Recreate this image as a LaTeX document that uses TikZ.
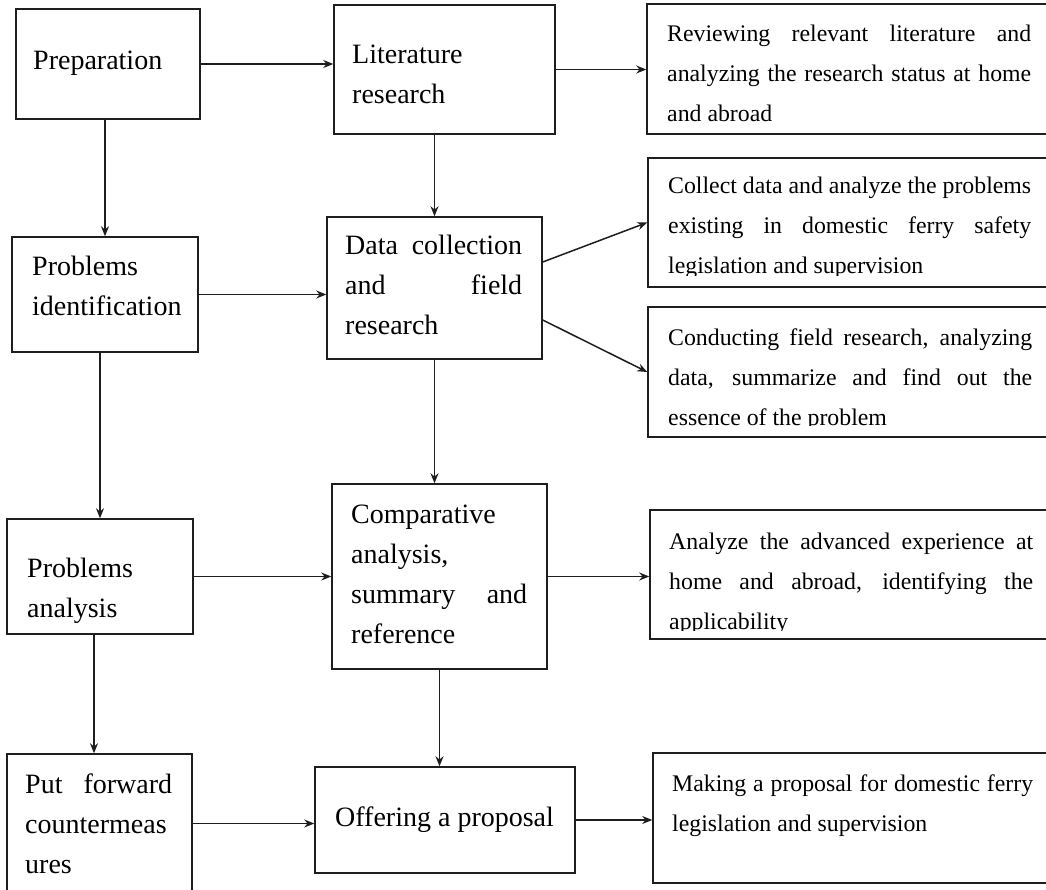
\documentclass[tikz,border=0pt]{standalone}
\usepackage{fontspec}
\setmainfont{Liberation Serif}
\usetikzlibrary{arrows.meta,fit}
\definecolor{linecol}{RGB}{30,30,30}
\newcommand{\jline}[1]{\makebox[\linewidth][s]{#1}}
\begin{document}
\begin{tikzpicture}[x=1pt,y=-1pt,
 box/.style={draw=linecol, line width=1.5pt, inner sep=0pt, rectangle},
 txt/.style={inner sep=0pt, anchor=base west, text=black},
 arr/.style={draw=linecol, line width=1.5pt, -{Stealth[length=10pt,width=8pt]}},
 big/.style={font=\fontsize{28}{40}\selectfont},
 small/.style={font=\fontsize{23.8}{40}\selectfont}]
\useasboundingbox[fill=white] (0,0) rectangle (1046,890);

% column 1
\node[box, fit={(16,9)(200,119)}] (prep) {};
\node[txt,big] (prep-t) at (33,70) {Preparation};
\node[box, fit={(12,237)(198,352)}] (probid) {};
\node[txt,big] (probid-t) at (32,276) {\parbox[t]{160pt}{Problems\\identification}};
\node[box, fit={(7,519)(193,634)}] (probana) {};
\node[txt,big] (probana-t) at (27,577) {\parbox[t]{160pt}{Problems\\analysis}};
\node[box, fit={(7,754)(192,893)}] (put) {};
\node[txt,big] (put-t) at (25,793) {\parbox[t]{147pt}{\jline{Put forward}\\countermeas\\ures}};

% column 2
\node[box, fit={(334,5)(555,134)}] (lit) {};
\node[txt,big] (lit-t) at (352,64) {\parbox[t]{190pt}{Literature\\research}};
\node[box, fit={(327,217)(542,359)}] (data) {};
\node[txt,big] (data-t) at (345,255) {\parbox[t]{177pt}{\jline{Data collection}\\\jline{and field}\\research}};
\node[box, fit={(332,484)(547,669)}] (comp) {};
\node[txt,big] (comp-t) at (351,523) {\parbox[t]{176pt}{Comparative\\analysis,\\\jline{summary and}\\reference}};
\node[box, fit={(315,767)(575,873)}] (offer) {};
\node[txt,big] (offer-t) at (335,826) {Offering a proposal};

% column 3
\node[box, fit={(647,4)(1049,134)}] (rev) {};
\node[txt,small] (rev-t) at (667,42) {\parbox[t]{364pt}{\jline{Reviewing relevant literature and}\\\jline{analyzing the research status at home}\\and abroad}};
\node[box, fit={(648,158)(1049,287)}] (collect) {};
\begin{scope}
\clip (640,150) rectangle (1046,276);
\node[txt,small] (collect-t) at (668,194) {\parbox[t]{363pt}{\jline{Collect data and analyze the problems}\\\jline{existing in domestic ferry safety}\\legislation and supervision}};
\end{scope}
\node[box, fit={(648,307)(1049,437)}] (conduct) {};
\begin{scope}
\clip (640,300) rectangle (1046,425);
\node[txt,small] (conduct-t) at (668,345) {\parbox[t]{364pt}{\jline{Conducting field research, analyzing}\\\jline{data, summarize and find out the}\\essence of the problem}};
\end{scope}
\node[box, fit={(650,510)(1049,639)}] (analyze) {};
\begin{scope}
\clip (640,500) rectangle (1046,630);
\node[txt,small] (analyze-t) at (669,549) {\parbox[t]{364pt}{\jline{Analyze the advanced experience at}\\\jline{home and abroad, identifying the}\\applicability}};
\end{scope}
\node[box, fit={(653,753)(1049,883)}] (making) {};
\node[txt,small] (making-t) at (672,791) {\parbox[t]{361pt}{\jline{Making a proposal for domestic ferry}\\legislation and supervision}};

% connectors
\draw[arr] (prep.east) -- (prep.east -| lit.west);
\draw[arr] (lit.east) -- (lit.east -| rev.west);
\draw[arr] ([xshift=-3pt]prep.south) -- ([xshift=-3pt]prep.south |- probid.north);
\draw[arr] (lit.south -| data.north) -- (data.north);
\draw[arr] (probid.east) -- (probid.east -| data.west);
\draw[arr] ([yshift=26pt]data.east) -- (collect.west);
\draw[arr] ([yshift=-32pt]data.east) -- (conduct.west);
\draw[arr] (probid.south -| probana.north) -- (probana.north);
\draw[arr] (data.south) -- (data.south |- comp.north);
\draw[arr] (probana.east) -- (probana.east -| comp.west);
\draw[arr] (comp.east) -- (comp.east -| analyze.west);
\draw[arr] ([xshift=-6pt]probana.south) -- ([xshift=-6pt]probana.south |- put.north);
\draw[arr] (comp.south) -- (comp.south |- offer.north);
\draw[arr] (put.east) -- (put.east -| offer.west);
\draw[arr] (offer.east) -- (offer.east -| making.west);
\end{tikzpicture}
\end{document}
